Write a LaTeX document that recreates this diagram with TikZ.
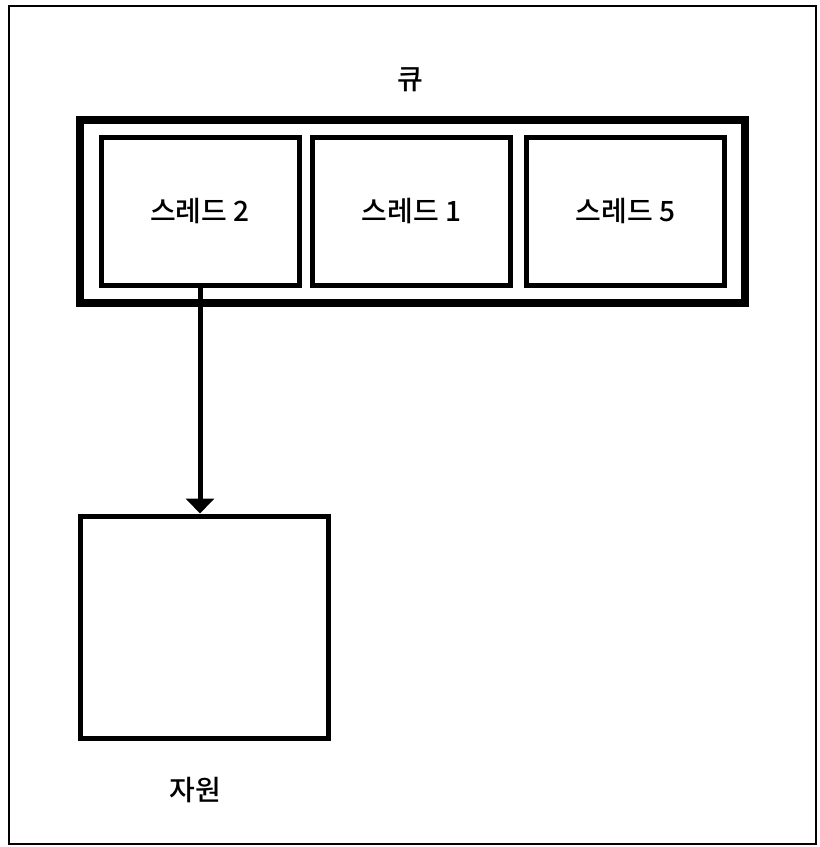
\documentclass[tikz,border=0pt]{standalone}
\usepackage{fontspec}
\setmainfont{Noto Sans CJK KR}[UprightFont=* Medium]
\usetikzlibrary{positioning,arrows.meta}

\tikzset{
  thread/.style={draw, line width=5pt, minimum width=198pt, minimum height=148pt, font=\fontsize{28}{32}\selectfont},
  tag/.style={font=\fontsize{28}{32}\selectfont},
}

\begin{document}
\begin{tikzpicture}[x=1pt,y=-1pt,line width=1pt]
\useasboundingbox (0,0) rectangle (820,847);
\draw[line width=2pt] (9,6) rectangle (816,844);
% queue with three threads
\node[draw, line width=8pt, minimum width=665pt, minimum height=183pt] (queue) at (412.5,211.5) {};
\node[thread] (t2) at (200,211) {스레드 2};
\node[thread] (t1) at (411.5,211) {스레드 1};
\node[thread] (t5) at (625.5,211) {스레드 5};
\node[tag] (qlabel) at (410,80) {큐};
% resource
\node[draw, line width=5pt, minimum width=248pt, minimum height=222pt] (res) at (204,627) {};
\node[tag] (rlabel) at (195,790) {자원};
\draw[line width=5pt,-{Triangle[width=28pt,length=15pt]}] (t2.south) -- (t2.south |- res.north);
\end{tikzpicture}
\end{document}
